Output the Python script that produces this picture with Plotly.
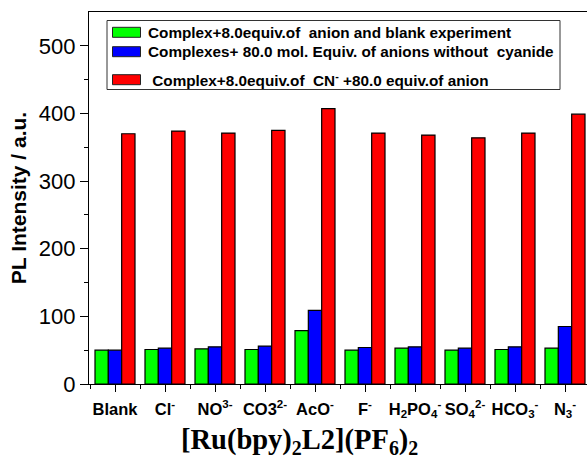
import plotly.graph_objects as go

# Anion categories (tick labels) and PL intensities for each condition
categories = [
    "Blank", "Cl<sup>-</sup>", "NO<sup>3-</sup>", "CO3<sup>2-</sup>", "AcO<sup>-</sup>",
    "F<sup>-</sup>", "H<sub>2</sub>PO<sub>4</sub><sup>-</sup>", "SO<sub>4</sub><sup>2-</sup>",
    "HCO<sub>3</sub><sup>-</sup>", "N<sub>3</sub><sup>-</sup>",
]
anion_only = [50, 51, 52, 51, 79, 50, 53, 50, 51, 53]
anions_no_cn = [50, 53, 55, 56, 109, 54, 55, 53, 55, 85]
cn_plus_anion = [370, 374, 371, 375, 407, 371, 368, 364, 371, 399]

series_names = [
    "Complex+8.0equiv.of  anion and blank experiment",
    "Complexes+ 80.0 mol. Equiv. of anions without  cyanide",
    " Complex+8.0equiv.of  CN<sup>-</sup> +80.0 equiv.of anion",
]
series_values = [anion_only, anions_no_cn, cn_plus_anion]
series_colors = ["#00ff00", "#0000ff", "#ff0000"]

W, H = 587, 460
L, R, T, B = 89, 0, 12, 76
plot_w = W - L - R
plot_h = H - T - B

x_pos = list(range(len(categories)))

fig = go.Figure()
for name, vals, col in zip(series_names, series_values, series_colors):
    fig.add_trace(go.Bar(
        x=x_pos, y=vals, name=name,
        marker=dict(color=col, line=dict(color="#000000", width=1.2)),
        showlegend=False,
    ))

# Hand-built legend box (pixel layout converted to paper fractions)
def px(xp):
    return (xp - L) / plot_w

def py(yp):
    return (H - B - yp) / plot_h

shapes = [dict(type="rect", xref="paper", yref="paper",
               x0=px(107), x1=px(560), y0=py(89.5), y1=py(20.5),
               line=dict(color="#333333", width=1), fillcolor="white", layer="above")]
annotations = []
rows_y = [32.3, 51.7, 79.7]
text_x = [145.5, 145.5, 145.5]
for ry, tx, name, col in zip(rows_y, text_x, series_names, series_colors):
    shapes.append(dict(type="rect", xref="paper", yref="paper",
                       x0=px(112.5), x1=px(140.5), y0=py(ry + 5), y1=py(ry - 5),
                       line=dict(color="#222222", width=1), fillcolor=col, layer="above"))
    annotations.append(dict(xref="paper", yref="paper", x=px(tx), y=py(ry),
                            xanchor="left", yanchor="middle", showarrow=False,
                            text="<b>" + name.replace("  ", "\u00a0 ") + "</b>",
                            font=dict(family="Liberation Sans, Arial", size=15.3, color="#000000")))

# x-axis title
annotations.append(dict(xref="paper", yref="paper", x=px(299), y=py(441),
                        xanchor="center", yanchor="middle", showarrow=False,
                        text="<b>[Ru(bpy)<sub>2</sub>L2](PF<sub>6</sub>)<sub>2</sub></b>",
                        font=dict(family="Liberation Serif, Times New Roman", size=28.5, color="#000000")))

fig.update_layout(
    width=W, height=H,
    margin=dict(l=L, r=R, t=T, b=B, pad=0),
    paper_bgcolor="white", plot_bgcolor="white",
    barmode="group", bargap=0.2, bargroupgap=0,
    shapes=shapes, annotations=annotations,
    font=dict(family="Liberation Sans, Arial", color="#000000"),
    xaxis=dict(
        range=[-0.52, 9.44],
        tickvals=x_pos, ticktext=["<b>" + c + "</b>" for c in categories],
        tickfont=dict(size=16.5, family="Liberation Sans, Arial", color="#000000"),
        ticklabelstandoff=3,
        showline=True, linecolor="#000000", linewidth=1.3, mirror=True,
        ticks="outside", ticklen=7, tickwidth=1.2, tickcolor="#000000",
        minor=dict(tickvals=[i - 0.5 for i in x_pos], ticks="outside", ticklen=4,
                   tickwidth=1.2, tickcolor="#000000"),
        showgrid=False, zeroline=False,
    ),
    yaxis=dict(
        range=[0, 550],
        tickvals=[0, 100, 200, 300, 400, 500],
        tickfont=dict(size=22, family="Liberation Sans, Arial", color="#000000"),
        showline=True, linecolor="#000000", linewidth=1.3, mirror=False,
        ticks="outside", ticklen=8, tickwidth=1.2, tickcolor="#000000",
        minor=dict(tickvals=[50, 150, 250, 350, 450], ticks="outside", ticklen=4,
                   tickwidth=1.2, tickcolor="#000000"),
        showgrid=False, zeroline=False,
        title=dict(text="<b>PL Intensity / a.u.</b>", standoff=6,
                   font=dict(size=21, family="Liberation Sans, Arial", color="#000000")),
    ),
)

fig.write_html("out.html")
